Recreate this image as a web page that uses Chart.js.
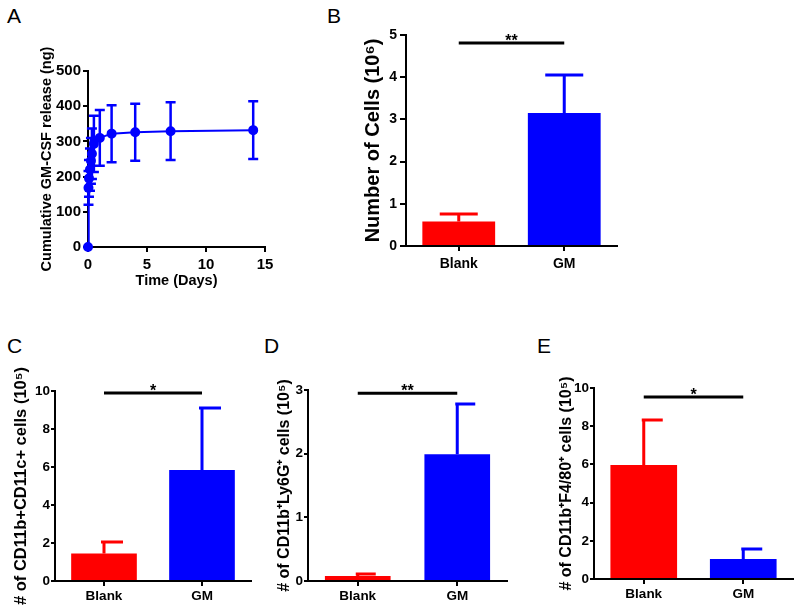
<!DOCTYPE html>
<html>
<head>
<meta charset="utf-8">
<script src="https://cdn.jsdelivr.net/npm/chart.js@4/dist/chart.umd.min.js"></script>
<style>
body { margin: 0; background: #fff; width: 800px; height: 609px; position: relative; overflow: hidden; font-family: "Liberation Sans", Arial, sans-serif; }
canvas { position: absolute; }
.lbl { position: absolute; font-size: 21px; line-height: 1; color: #000; }
</style>
</head>
<body>
<div class="lbl" style="left:7px;top:5px">A</div>
<div class="lbl" style="left:327px;top:5px">B</div>
<div class="lbl" style="left:7px;top:335px">C</div>
<div class="lbl" style="left:264px;top:335px">D</div>
<div class="lbl" style="left:537px;top:335px">E</div>

<canvas id="chartA" width="300" height="300" style="left:0;top:0"></canvas>
<canvas id="chartB" width="320" height="300" style="left:320px;top:0"></canvas>
<canvas id="chartC" width="265" height="289" style="left:0;top:320px"></canvas>
<canvas id="chartD" width="265" height="289" style="left:265px;top:320px"></canvas>
<canvas id="chartE" width="270" height="289" style="left:530px;top:320px"></canvas>

<script>
// panel A: cumulative release
const releaseDays = [0, 0.042, 0.083, 0.167, 0.25, 0.333, 0.5, 1, 2, 4, 7, 14];
const releaseNg = [0, 168, 195, 220, 245, 265, 293, 310, 322, 326, 329, 332];
const releaseSd = [0, 48, 52, 60, 65, 72, 80, 79, 81, 81, 82, 82];

// panels B-E: Blank vs GM
const groups = ['Blank', 'GM'];
const cellsMean = [0.58, 3.15];
const cellsSd = [0.18, 0.90];
const dcMean = [1.45, 5.84];
const dcSd = [0.60, 3.26];
const neutMean = [0.08, 1.99];
const neutSd = [0.03, 0.79];
const macMean = [5.97, 1.05];
const macSd = [2.35, 0.52];

const sigText = ['**', '*', '**', '*'];
const sigLevel = [4.81, 9.9, 2.95, 9.53];

const RED = '#ff0000';
const BLUE = '#0000ff';

Chart.defaults.font.family = '"Liberation Sans", Arial, sans-serif';
Chart.defaults.color = '#000';

const errorBars = {
  id: 'errorBars',
  afterDatasetsDraw(chart, args, opts) {
    const ds = chart.data.datasets[0];
    if (!ds.errors) return;
    const ctx = chart.ctx;
    const y = chart.scales.y;
    const meta = chart.getDatasetMeta(0);
    ctx.save();
    ctx.lineWidth = opts.width;
    meta.data.forEach((el, i) => {
      const sd = ds.errors[i];
      if (!sd) return;
      const raw = ds.data[i];
      const v = typeof raw === 'object' ? raw.y : raw;
      const top = y.getPixelForValue(v + sd);
      const bottom = opts.both ? y.getPixelForValue(v - sd) : el.y;
      ctx.strokeStyle = Array.isArray(ds.backgroundColor) ? ds.backgroundColor[i] : ds.borderColor;
      ctx.beginPath();
      ctx.moveTo(el.x, bottom);
      ctx.lineTo(el.x, top);
      ctx.moveTo(el.x - opts.capL, top);
      ctx.lineTo(el.x + opts.capR, top);
      if (opts.both) {
        ctx.moveTo(el.x - opts.capL, bottom);
        ctx.lineTo(el.x + opts.capR, bottom);
      }
      ctx.stroke();
    });
    ctx.restore();
  }
};

const sigBar = {
  id: 'sigBar',
  afterDatasetsDraw(chart, args, opts) {
    const ds = chart.data.datasets[0];
    if (ds.sigLevel === undefined) return;
    const ctx = chart.ctx;
    const meta = chart.getDatasetMeta(0);
    const yy = chart.scales.y.getPixelForValue(ds.sigLevel);
    const x0 = meta.data[0].x, x1 = meta.data[1].x;
    ctx.save();
    ctx.strokeStyle = '#000';
    ctx.lineWidth = 3;
    ctx.beginPath();
    ctx.moveTo(x0, yy);
    ctx.lineTo(x1, yy);
    ctx.stroke();
    ctx.fillStyle = '#000';
    ctx.font = 'bold 16px "Liberation Sans", Arial, sans-serif';
    ctx.textAlign = 'center';
    ctx.textBaseline = 'alphabetic';
    ctx.fillText(ds.sigText, (x0 + x1) / 2, yy + 3);
    ctx.restore();
  }
};

function axisGrid(len) {
  return { drawOnChartArea: false, drawTicks: true, tickLength: len, color: '#000', lineWidth: 2, offset: false };
}

// panel A
new Chart(document.getElementById('chartA'), {
  type: 'line',
  data: {
    datasets: [{
      data: releaseDays.map((d, i) => ({ x: d, y: releaseNg[i] })),
      errors: releaseSd,
      borderColor: BLUE,
      backgroundColor: BLUE,
      borderWidth: 2,
      pointRadius: 4,
      pointBackgroundColor: BLUE,
      tension: 0,
      clip: false
    }]
  },
  options: {
    responsive: false,
    animation: false,
    devicePixelRatio: 1,
    layout: { padding: { left: 0, top: 71, right: 35, bottom: 0 } },
    plugins: {
      legend: { display: false },
      tooltip: { enabled: false },
      errorBars: { width: 2.5, capL: 5, capR: 5, both: true }
    },
    scales: {
      x: {
        type: 'linear', min: 0, max: 15,
        ticks: { stepSize: 5, padding: 4, font: { size: 15, weight: 'bold' } },
        grid: axisGrid(5),
        border: { color: '#000', width: 2 },
        title: { display: true, text: 'Time (Days)', font: { size: 14.5, weight: 'bold' }, padding: { top: 0, bottom: 10.6 } },
        afterFit: s => { s.height = 53; }
      },
      y: {
        min: 0, max: 500,
        ticks: { stepSize: 100, padding: 2, font: { size: 15, weight: 'bold' } },
        grid: axisGrid(5),
        border: { color: '#000', width: 2 },
        title: { display: true, text: 'Cumulative GM-CSF release (ng)', font: { size: 14.5, weight: 'bold' }, padding: { top: 38, bottom: 0 } },
        afterFit: s => { s.width = 88; }
      }
    }
  },
  plugins: [errorBars]
});

function barPanel(id, mean, sd, k, cfg) {
  new Chart(document.getElementById(id), {
    type: 'bar',
    data: {
      labels: groups,
      datasets: [{
        data: mean,
        errors: sd,
        sigLevel: sigLevel[k],
        sigText: sigText[k],
        backgroundColor: [RED, BLUE],
        borderWidth: 0,
        barPercentage: cfg.barPct,
        categoryPercentage: 1
      }]
    },
    options: {
      responsive: false,
      animation: false,
      devicePixelRatio: 1,
      layout: { padding: cfg.pad },
      plugins: {
        legend: { display: false },
        tooltip: { enabled: false },
        errorBars: { width: 3, capL: cfg.capL, capR: cfg.capR, both: false }
      },
      scales: {
        x: {
          offset: true,
          ticks: { padding: cfg.xPad, font: { size: cfg.tickSize, weight: 'bold' } },
          grid: axisGrid(5),
          border: { color: '#000', width: 2 },
          afterFit: s => { s.height = cfg.xH; }
        },
        y: {
          min: 0, max: cfg.max,
          ticks: { stepSize: cfg.step, padding: cfg.yPad, font: { size: cfg.tickSize, weight: 'bold' } },
          grid: axisGrid(cfg.yTick),
          border: { color: '#000', width: 2 },
          title: { display: true, text: cfg.title, font: { size: cfg.titleSize, weight: 'bold' }, padding: { top: cfg.titlePad, bottom: 0 } },
          afterFit: s => { s.width = cfg.yW; }
        }
      }
    },
    plugins: [errorBars, sigBar]
  });
}

barPanel('chartB', cellsMean, cellsSd, 0, {
  pad: { left: 0, top: 35, right: 23, bottom: 0 }, yW: 86, xH: 54,
  max: 5, step: 1, barPct: 0.69, capL: 19, capR: 19,
  tickSize: 14, xPad: 5, yPad: 3, yTick: 6,
  title: 'Number of Cells (10\u2076)', titleSize: 20, titlePad: 41
});

barPanel('chartC', dcMean, dcSd, 1, {
  pad: { left: 0, top: 71, right: 14, bottom: 0 }, yW: 55, xH: 28,
  max: 10, step: 2, barPct: 0.67, capL: 3, capR: 19,
  tickSize: 13.5, xPad: 2, yPad: 1, yTick: 4,
  title: '# of CD11b+CD11c+ cells (10\u2075)', titleSize: 16.5, titlePad: 12
});

barPanel('chartD', neutMean, neutSd, 2, {
  pad: { left: 0, top: 70, right: 23, bottom: 0 }, yW: 43, xH: 28,
  max: 3, step: 1, barPct: 0.66, capL: 2, capR: 18,
  tickSize: 13.5, xPad: 2, yPad: 1, yTick: 4,
  title: '# of CD11b\u207ALy6G\u207A cells (10\u2075)', titleSize: 16, titlePad: 10
});

barPanel('chartE', macMean, macSd, 3, {
  pad: { left: 0, top: 68, right: 7, bottom: 0 }, yW: 64, xH: 30,
  max: 10, step: 2, barPct: 0.67, capL: 2, capR: 19,
  tickSize: 13.5, xPad: 2, yPad: 1, yTick: 4,
  title: '# of CD11b\u207AF4/80\u207A cells (10\u2075)', titleSize: 16, titlePad: 27
});
</script>
</body>
</html>
